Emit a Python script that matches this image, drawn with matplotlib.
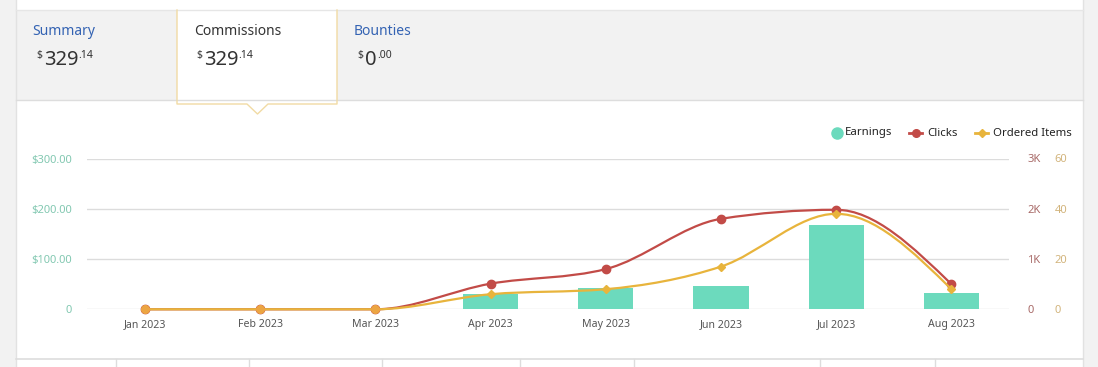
import numpy as np
import matplotlib
matplotlib.use("Agg")
import matplotlib.pyplot as plt
from matplotlib.path import Path
from matplotlib.patches import PathPatch, Rectangle, Polygon

plt.rcParams['font.family'] = ['Noto Sans', 'DejaVu Sans']

# data
months = ['Jan 2023', 'Feb 2023', 'Mar 2023', 'Apr 2023', 'May 2023', 'Jun 2023', 'Jul 2023', 'Aug 2023']
earnings = [0, 0, 0, 30.2, 42.6, 46.4, 167.9, 32.4]
clicks = [0, 0, 0, 510, 800, 1800, 1980, 500]
ordered_items = [0, 0, 0, 6, 8, 17, 38, 8]

left_ticks = [0, 100, 200, 300]
left_labels = ['0', '$100.00', '$200.00', '$300.00']
clicks_ticks = [0, 1000, 2000, 3000]
clicks_labels = ['0', '1K', '2K', '3K']
items_ticks = [0, 20, 40, 60]
items_labels = ['0', '20', '40', '60']

C_BAR = '#6cdabd'
C_CLICK = '#c24b47'
C_ITEMS = '#e8b43c'
C_GRID = '#dcdcdc'


def monotone_path(xs, ys):
    # cubic bezier path like d3 curveMonotoneX
    xs = np.asarray(xs, float)
    ys = np.asarray(ys, float)
    n = len(xs)
    h = np.diff(xs)
    s = np.diff(ys) / h
    t = np.zeros(n)
    for i in range(1, n - 1):
        p = (s[i - 1] * h[i] + s[i] * h[i - 1]) / (h[i - 1] + h[i])
        t[i] = (np.sign(s[i - 1]) + np.sign(s[i])) * min(abs(s[i - 1]), abs(s[i]), 0.5 * abs(p))
    t[0] = (3 * s[0] - t[1]) / 2 if n > 2 else s[0]
    t[-1] = (3 * s[-1] - t[-2]) / 2 if n > 2 else s[-1]
    verts = [(xs[0], ys[0])]
    codes = [Path.MOVETO]
    for i in range(n - 1):
        dx = h[i] / 3
        verts += [(xs[i] + dx, ys[i] + dx * t[i]),
                  (xs[i + 1] - dx, ys[i + 1] - dx * t[i + 1]),
                  (xs[i + 1], ys[i + 1])]
        codes += [Path.CURVE4] * 3
    return Path(verts, codes)


fig = plt.figure(figsize=(10.98, 3.67), dpi=100)

# page background / tabs, in pixel coords
bg = fig.add_axes([0, 0, 1, 1], zorder=-5)
bg.set_xlim(0, 1098)
bg.set_ylim(367, 0)
bg.axis('off')
bg.add_patch(Rectangle((0, 0), 16, 367, color='#f2f2f2', lw=0))
bg.add_patch(Rectangle((1084, 0), 14, 367, color='#f2f2f2', lw=0))
bg.plot([16, 16], [0, 367], color='#e2e2e2', lw=1)
bg.plot([1083, 1083], [0, 367], color='#e2e2e2', lw=1)
bg.add_patch(Rectangle((16, 10), 1067, 90, color='#f2f2f2', lw=0))
bg.plot([16, 1083], [10, 10], color='#e6e6e6', lw=1)
bg.plot([16, 1083], [100, 100], color='#dddddd', lw=1)

# selected tab
bg.add_patch(Rectangle((177, 10), 160, 94, facecolor='white', edgecolor='none'))
bg.plot([177, 177, 247, 257.5, 268, 337, 337], [10, 104, 104, 114, 104, 104, 10], color='#f1dba4', lw=1)
bg.add_patch(Polygon([(248, 103.5), (257.5, 113), (267, 103.5)], closed=True, facecolor='white', edgecolor='none'))

tabs = [('Summary', 32, '#3463b3', '329', '.14', 36, 44, 78),
        ('Commissions', 194, '#333333', '329', '.14', 196, 204, 238),
        ('Bounties', 354, '#3463b3', '0', '.00', 357, 365, 377)]
for name, tx, col, big, small, dx, bx, sx in tabs:
    bg.text(tx, 35, name, fontsize=10, color=col, va='baseline', ha='left')
    bg.text(dx, 50, '$', fontsize=7.5, color='#333333', va='top', ha='left')
    bg.text(bx, 65, big, fontsize=14.5, color='#333333', va='baseline', ha='left')
    bg.text(sx, 49.5, small, fontsize=7.5, color='#333333', va='top', ha='left')

# bottom row separators
bg.plot([16, 1083], [359, 359], color='#dddddd', lw=1.2)
for sx in [116, 249, 382, 520, 634, 820, 935]:
    bg.plot([sx, sx], [359, 367], color='#dddddd', lw=1)

# legend
bg.plot([837], [133], 'o', ms=8, color=C_BAR)
bg.text(845, 133, 'Earnings', fontsize=8.2, color='#222222', va='center', ha='left')
bg.plot([909, 922], [133, 133], color=C_CLICK, lw=2)
bg.plot([915.5], [133], 'o', ms=5.5, color=C_CLICK)
bg.text(927, 133, 'Clicks', fontsize=8.2, color='#222222', va='center', ha='left')
bg.plot([975, 988], [133, 133], color=C_ITEMS, lw=2)
bg.plot([981.5], [133], 'D', ms=4, color=C_ITEMS)
bg.text(993, 133, 'Ordered Items', fontsize=8.2, color='#222222', va='center', ha='left')

# chart
pos = [87.4 / 1098, 57.7 / 367, 921.6 / 1098, 150.8 / 367]
ax = fig.add_axes(pos)
ax.patch.set_visible(False)
x = np.arange(len(months))
ax.bar(x, earnings, width=0.48, color=C_BAR, zorder=2)
ax.set_xlim(-0.5, len(months) - 0.5)
ax.set_ylim(0, 300)
ax.set_yticks(left_ticks)
ax.set_yticklabels(left_labels)
ax.set_xticks(x)
ax.set_xticklabels(months)
ax.yaxis.grid(True, color=C_GRID, lw=1)
ax.set_axisbelow(True)
for sp in ax.spines.values():
    sp.set_visible(False)
ax.tick_params(axis='y', length=0, pad=11, labelsize=8, labelcolor='#82c8b1')
ax.tick_params(axis='x', length=0, pad=7, labelsize=7.6, labelcolor='#555555')

ax2 = ax.twinx()
ax2.set_ylim(0, 3000)
ax2.set_yticks(clicks_ticks)
ax2.set_yticklabels(clicks_labels)
ax2.tick_params(axis='y', length=0, pad=13, labelsize=8, labelcolor='#a86a68')
ax2.add_patch(PathPatch(monotone_path(x, clicks), facecolor='none', edgecolor=C_CLICK, lw=1.6, clip_on=False))
ax2.plot(x, clicks, 'o', ms=6, color=C_CLICK, clip_on=False)

ax3 = ax.twinx()
ax3.set_ylim(0, 60)
ax3.set_yticks(items_ticks)
ax3.set_yticklabels(items_labels)
ax3.tick_params(axis='y', length=0, pad=33, labelsize=8, labelcolor='#d2b47c')
ax3.add_patch(PathPatch(monotone_path(x, ordered_items), facecolor='none', edgecolor=C_ITEMS, lw=1.6, clip_on=False))
ax3.plot(x, ordered_items, 'D', ms=4.2, color=C_ITEMS, clip_on=False)
zero = (np.array(clicks) == 0) & (np.array(ordered_items) == 0)
ax3.plot(x[zero], np.array(ordered_items)[zero], 'o', ms=5.5, color='#eca543', clip_on=False)

for a in (ax2, ax3):
    for sp in a.spines.values():
        sp.set_visible(False)

fig.savefig('out.png', dpi=100)
